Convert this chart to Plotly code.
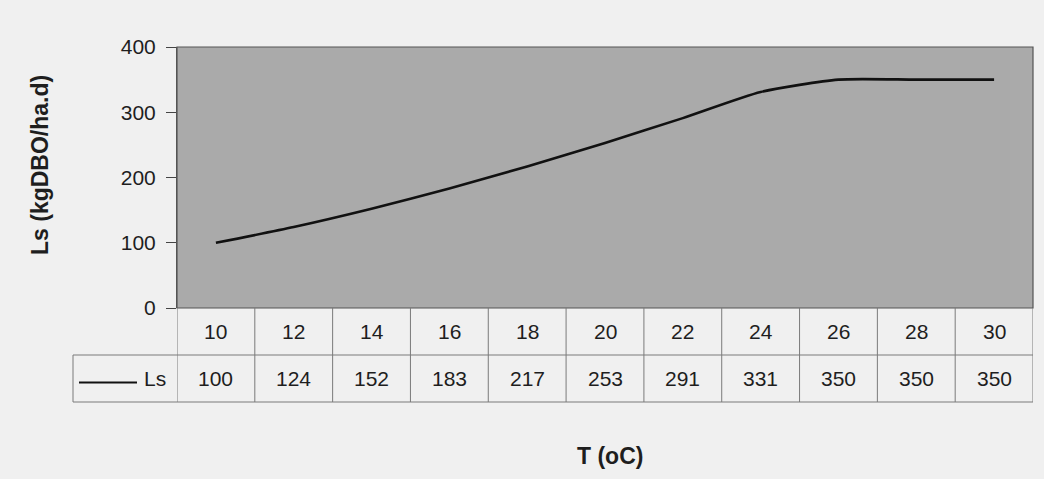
import plotly.graph_objects as go

# ---- data ----
temps = ["10", "12", "14", "16", "18", "20", "22", "24", "26", "28", "30"]
ls_values = [100, 124, 152, 183, 217, 253, 291, 331, 350, 350, 350]
series_name = "Ls"
y_ticks = [0, 100, 200, 300, 400]
y_title = "Ls (kgDBO/ha.d)"
x_title = "T (oC)"

# ---- layout geometry (pixels) ----
W, H = 1044, 479
L, R, T, B = 177, 1033, 47, 308
PH, PW = B - T, R - L
ROW1_BOT = 355
ROW2_BOT = 402
LEG_LEFT = 73


def py(pix):
    """pixel y -> paper y"""
    return (B - pix) / PH


def px(pix):
    """pixel x -> paper x"""
    return (pix - L) / PW


FONT = "Liberation Sans, Arial, sans-serif"
TXT = "#1e1e1e"
GRID = "#7a7a7a"

fig = go.Figure()
fig.add_trace(go.Scatter(
    x=list(range(len(temps))), y=ls_values, mode="lines", name=series_name,
    line=dict(color="#111111", width=2.6, shape="spline", smoothing=0.6),
    showlegend=False,
))

shapes = []
annotations = []
n = len(temps)

# plot-area border
shapes.append(dict(type="rect", xref="paper", yref="paper", x0=0, x1=1, y0=0, y1=1,
                   line=dict(color="#555555", width=1.2), layer="above"))

# table vertical lines (column boundaries)
for i in range(n + 1):
    shapes.append(dict(type="line", xref="x", yref="paper", x0=i - 0.5, x1=i - 0.5,
                       y0=py(B), y1=py(ROW2_BOT), line=dict(color=GRID, width=1)))
# legend cell left border
shapes.append(dict(type="line", xref="paper", yref="paper", x0=px(LEG_LEFT), x1=px(LEG_LEFT),
                   y0=py(ROW1_BOT), y1=py(ROW2_BOT), line=dict(color=GRID, width=1)))
# horizontal lines
for yy in (ROW1_BOT, ROW2_BOT):
    shapes.append(dict(type="line", xref="paper", yref="paper", x0=px(LEG_LEFT), x1=1,
                       y0=py(yy), y1=py(yy), line=dict(color=GRID, width=1)))

# table text
r1c = (B + ROW1_BOT) / 2
r2c = (ROW1_BOT + ROW2_BOT) / 2
cell_font = dict(size=21, color=TXT, family=FONT)
for i, (t, v) in enumerate(zip(temps, ls_values)):
    annotations.append(dict(x=i, y=py(r1c), xref="x", yref="paper", text=t, showarrow=False,
                            xanchor="center", yanchor="middle", font=cell_font))
    annotations.append(dict(x=i, y=py(r2c), xref="x", yref="paper", text=str(v), showarrow=False,
                            xanchor="center", yanchor="middle", font=cell_font))

# legend key in table
shapes.append(dict(type="line", xref="paper", yref="paper", x0=px(79), x1=px(137),
                   y0=py(r2c + 4), y1=py(r2c + 4), line=dict(color="#111111", width=2.2)))
annotations.append(dict(x=px(142), y=py(r2c), xref="paper", yref="paper", text=series_name,
                        xanchor="left", yanchor="middle", showarrow=False, font=cell_font))

# axis titles
annotations.append(dict(x=px(610), y=py(456), xref="paper", yref="paper", text="<b>%s</b>" % x_title,
                        xanchor="center", yanchor="middle",
                        showarrow=False, font=dict(size=23, color=TXT, family=FONT)))
annotations.append(dict(x=px(40), y=py(165), xref="paper", yref="paper", text="<b>%s</b>" % y_title,
                        xanchor="center", yanchor="middle",
                        showarrow=False, textangle=-90, font=dict(size=23, color=TXT, family=FONT)))

fig.update_layout(
    width=W, height=H,
    margin=dict(l=L, r=W - R, t=T, b=H - B),
    paper_bgcolor="#f0f0f0", plot_bgcolor="#aaaaaa",
    shapes=shapes, annotations=annotations,
    font=dict(family=FONT, color=TXT),
)
fig.update_xaxes(range=[-0.5, n - 0.5], showticklabels=False, showgrid=False, zeroline=False,
                 ticks="", showline=False)
fig.update_yaxes(range=[0, 400], tickvals=y_ticks, ticks="outside", ticklen=10, tickcolor="#444444",
                 tickfont=dict(size=21, color=TXT, family=FONT), showgrid=False, zeroline=False,
                 showline=True, linecolor="#555555", ticklabelstandoff=6)

fig.write_html("out.html", config={"displayModeBar": False},
               post_script="document.body.style.margin='0';document.body.style.overflow='hidden';")
